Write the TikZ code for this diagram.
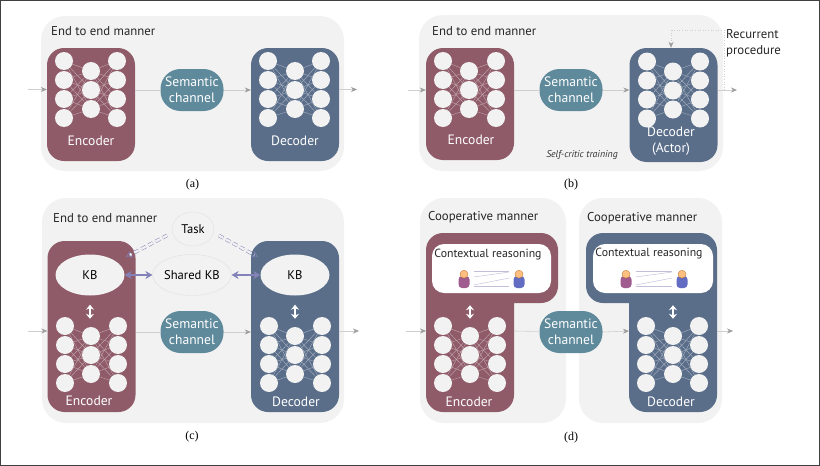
\documentclass[tikz,border=0pt]{standalone}
\usepackage{fontspec}
\setmainfont{PT Sans}
\newfontfamily\capfont{Liberation Serif}
\usetikzlibrary{arrows.meta, shapes.geometric, positioning}
\definecolor{panelcol}{HTML}{F2F2F2}
\definecolor{enccol}{HTML}{8F5B69}
\definecolor{deccol}{HTML}{5A6E8A}
\definecolor{chancol}{HTML}{5F8A9C}
\definecolor{linkcol}{HTML}{CFCFCF}
\definecolor{tipcol}{HTML}{9C9C9C}
\definecolor{kbcol}{HTML}{8482B8}
\tikzset{%
    panelsty/.style={
        rounded corners=24pt,
        fill=panelcol,
        inner sep=0pt,
    },
    boxsty/.style={
        rounded corners=17pt,
        inner sep=0pt,
        minimum width=88pt,
    },
    encsty/.style={boxsty, fill=enccol},
    decsty/.style={boxsty, fill=deccol},
    chansty/.style={
        rounded corners=20pt,
        fill=chancol,
        text=white,
        align=center,
        inner sep=0pt,
        minimum width=63pt,
        minimum height=42pt,
        font=\fontsize{13.6}{16}\selectfont,
    },
    neuronsty/.style={
        circle,
        fill=panelcol,
        inner sep=0pt,
        minimum size=18pt,
    },
    kbsty/.style={
        ellipse,
        fill=panelcol,
        inner sep=0pt,
        minimum width=69pt,
        minimum height=41pt,
        font=\fontsize{12.6}{15}\selectfont,
    },
    softsty/.style={
        kbsty,
        draw=black!12,
        line width=0.4pt,
    },
    ctxsty/.style={
        rounded corners=12pt,
        fill=white,
        inner sep=0pt,
        minimum height=49pt,
    },
    titlesty/.style={
        anchor=west,
        inner sep=0pt,
        text=black!85,
        font=\fontsize{12.8}{15}\selectfont,
    },
    whitesty/.style={
        text=white,
        align=center,
        inner sep=0pt,
        font=\fontsize{13.6}{16}\selectfont,
    },
    ctxtextsty/.style={
        inner sep=0pt,
        text=black!85,
        font=\fontsize{11.8}{14}\selectfont,
    },
    capsty/.style={
        inner sep=0pt,
        font=\capfont\fontsize{12}{14}\selectfont,
    },
    linksty/.style={draw=linkcol, line width=0.6pt},
    flowsty/.style={linksty, -{Stealth[length=6pt,width=5pt,color=tipcol]}},
    kbarrow/.style={draw=kbcol, line width=2pt, {Stealth[length=7pt,width=8pt]}-{Stealth[length=7pt,width=8pt]}},
    taskarrow/.style={draw=kbcol, double=panelcol, double distance=2.4pt, line width=0.5pt, dash pattern=on 5pt off 3pt, shorten <=6pt, -{Stealth[open,length=6pt,width=7pt]}},
    lifearrow/.style={draw=white, line width=2.4pt, {Stealth[length=5pt,width=8pt]}-{Stealth[length=5pt,width=8pt]}},
}

% neural net: prefix, three column positions, top row, edge colour
\newcommand{\neuralnet}[6]{%
  \foreach \i in {1,...,4} \node (#1l\i) [neuronsty] at (#2,{#5+(\i-1)*19}) {};
  \foreach \i in {1,...,3} \node (#1m\i) [neuronsty] at (#3,{#5+10+(\i-1)*19}) {};
  \foreach \i in {1,...,4} \node (#1r\i) [neuronsty] at (#4,{#5+(\i-1)*19}) {};
  \foreach \i in {1,...,4} \foreach \j in {1,...,3} {
    \draw [#6, line width=0.3pt] (#1l\i) -- (#1m\j);
    \draw [#6, line width=0.3pt] (#1r\i) -- (#1m\j);
  }
}

% person icon: name, position, body colour
\newcommand{\personicon}[4]{%
  \node (#1) [fill=#4, rounded corners=3.5pt, inner sep=0pt, minimum width=11pt, minimum height=12pt] at (#2,#3) {};
  \node (#1h) [circle, fill=orange!50!white, draw=orange!65!black, line width=0.2pt, inner sep=0pt, minimum size=8pt, above=-2.5pt of #1] {};
}

\begin{document}
\begin{tikzpicture}[x=1pt,y=-1pt]
\useasboundingbox (0,0) rectangle (820,466);
\draw [black!75, line width=1pt] (0.5,0.5) rectangle (819.5,465.5);

% (a) end to end
\node (pa) [panelsty, minimum width=303pt, minimum height=155pt] at (192.5,93.5) {};
\node (enca) [encsty, minimum height=113pt] at (91,104.5) {};
\node (deca) [decsty, minimum height=113pt] at (295,104.5) {};
\node (chana) [chansty] at (192,90) {Semantic\\channel};
\node (ta) [titlesty] at (51,31) {End to end manner};
\neuralnet{ea}{64}{91}{117}{61}{enccol!45!white}
\neuralnet{da}{268}{295}{321}{61}{deccol!45!white}
\node (enclaba) [whitesty] at (91,141) {Encoder};
\node (declaba) [whitesty] at (295,141) {Decoder};
\coordinate (ina) at (28,89.5);
\coordinate (outa) at (357,89.5);
\draw [flowsty] (ina) -- (ina -| enca.west);
\draw [linksty] (chana.west -| enca.east) -- (chana);
\draw [flowsty] (chana.east) -- (chana.east -| deca.west);
\draw [flowsty] (outa -| deca.east) -- (outa);
\node (capa) [capsty] at (192.5,185) {(a)};

% (b) self-critic
\node (pb) [panelsty, minimum width=304pt, minimum height=156pt] at (571,93) {};
\node (encb) [encsty, minimum height=112pt] at (470,104) {};
\node (decb) [decsty, minimum height=114pt] at (673.5,105) {};
\node (chanb) [chansty] at (571,90) {Semantic\\channel};
\node (tb) [titlesty] at (432,31) {End to end manner};
\neuralnet{eb}{443}{469}{496}{61}{enccol!45!white}
\neuralnet{db}{647}{673}{700}{61.5}{deccol!45!white}
\node (enclabb) [whitesty] at (471,140) {Encoder};
\node (declabb) [whitesty] at (671,141) {Decoder\\(Actor)};
\node (selfc) [inner sep=0pt, text=black!80, font=\itshape\fontsize{9.8}{12}\selectfont] at (582,155) {Self-critic training};
\node (recur) [anchor=west, inner sep=0pt, align=left, text=black!85, font=\fontsize{12.8}{16}\selectfont] at (726,43) {Recurrent\\procedure};
\coordinate (inb) at (408,90);
\coordinate (outb) at (737,90);
\coordinate (brb) at (724,90);
\coordinate (recb) at (671,30);
\draw [flowsty] (inb) -- (inb -| encb.west);
\draw [linksty] (chanb.west -| encb.east) -- (chanb);
\draw [flowsty] (chanb.east) -- (chanb.east -| decb.west);
\draw [flowsty] (outb -| decb.east) -- (outb);
\draw [linksty, dotted] (brb) |- (recb);
\draw [flowsty, dotted] (recb) -- (recb |- decb.north);
\node (capb) [capsty] at (571,185) {(b)};

% (c) shared knowledge base
\node (pc) [panelsty, minimum width=302pt, minimum height=225pt] at (193,310.5) {};
\node (encc) [encsty, minimum height=171pt] at (91.5,326.5) {};
\node (decc) [decsty, minimum height=171pt] at (295,326.5) {};
\node (chanc) [chansty] at (192,332) {Semantic\\channel};
\node (tc) [titlesty] at (53,218) {End to end manner};
\neuralnet{ec}{65}{91}{118}{326}{enccol!45!white}
\neuralnet{dc}{269}{295}{322}{326}{deccol!45!white}
\node (kbl) [kbsty] at (90,275) {KB};
\node (kbr) [kbsty] at (295,275) {KB};
\node (shared) [softsty] at (192,275) {Shared KB};
\node (task) [softsty, minimum width=42pt, minimum height=34pt] at (193,229) {Task};
\node (enclabc) [whitesty] at (89,401) {Encoder};
\node (declabc) [whitesty] at (296,402) {Decoder};
\coordinate (inc) at (28,331);
\coordinate (outc) at (359,331);
\coordinate (tipl) at (126,257);
\coordinate (tipr) at (258,257);
\draw [flowsty] (inc) -- (inc -| encc.west);
\draw [linksty] (chanc.west -| encc.east) -- (chanc);
\draw [flowsty] (chanc.east) -- (chanc.east -| decc.west);
\draw [flowsty] (outc -| decc.east) -- (outc);
\draw [kbarrow] (kbl) -- (shared);
\draw [kbarrow] (shared) -- (kbr);
\draw [taskarrow] (task.190) -- (tipl);
\draw [taskarrow] (task.350) -- (tipr);
\draw [lifearrow, shorten <=9pt, shorten >=8pt] (kbl.south) -- (kbl.south |- ecm1.north);
\draw [lifearrow, shorten <=9pt, shorten >=8pt] (kbr.south) -- (kbr.south |- dcm1.north);
\node (capc) [capsty] at (192,437) {(c)};

% (d) cooperative
\node (pdl) [panelsty, minimum width=146pt, minimum height=225pt] at (493,310.5) {};
\node (pdr) [panelsty, minimum width=143pt, minimum height=225pt] at (650.5,310.5) {};
\node (tdl) [titlesty] at (428,217) {Cooperative manner};
\node (tdr) [titlesty] at (587,218) {Cooperative manner};
\path [fill=enccol, rounded corners=17pt] (470,233) -- (558,233) -- (558,303) [sharp corners] -- (514,303) [rounded corners=17pt] -- (514,412) -- (426,412) -- (426,233) -- cycle;
\path [fill=deccol, rounded corners=17pt] (650,233) -- (717,233) -- (717,412) -- (629,412) [sharp corners] -- (629,303) [rounded corners=17pt] -- (586,303) -- (586,233) -- cycle;
\coordinate (encde) at (514,331);
\coordinate (decdw) at (629,331);
\coordinate (decde) at (717,331);
\coordinate (ind) at (406,331);
\coordinate (outd) at (733,331);
\node (chand) [chansty] at (571,332) {Semantic\\channel};
\neuralnet{ed}{443}{470}{497}{326}{enccol!45!white}
\neuralnet{dd}{646}{673}{699}{326}{deccol!45!white}
\node (ctxl) [ctxsty, minimum width=119pt] at (491.5,268.5) {};
\node (ctxr) [ctxsty, minimum width=120pt] at (653,268.5) {};
\node (ctxlt) [ctxtextsty] at (488,255) {Contextual reasoning};
\node (ctxrt) [ctxtextsty] at (649,254) {Contextual reasoning};
\personicon{pla}{464}{282}{violet!45!enccol!80!white}{}
\personicon{plb}{519}{282}{blue!35!deccol!80!white}{}
\personicon{pra}{626}{282}{violet!45!enccol!80!white}{}
\personicon{prb}{682}{282}{blue!35!deccol!80!white}{}
\foreach \pa/\pb in {pla/plb, pra/prb} {
  \draw [draw=kbcol!50!white, line width=0.45pt] ([xshift=4pt,yshift=11pt]\pa.east) -- ([xshift=-4pt,yshift=11pt]\pb.west);
  \draw [draw=kbcol!50!white, line width=0.45pt] ([xshift=4pt,yshift=5pt]\pa.east) -- ([xshift=-4pt,yshift=10pt]\pb.west);
  \draw [draw=kbcol!50!white, line width=0.45pt] ([xshift=4pt,yshift=-3pt]\pa.east) -- ([xshift=-4pt,yshift=4pt]\pb.west);
  \draw [draw=kbcol!50!white, line width=0.45pt] ([xshift=4pt,yshift=-4pt]\pa.east) -- ([xshift=-4pt,yshift=-4pt]\pb.west);
}
\node (enclabd) [whitesty] at (469,402) {Encoder};
\node (declabd) [whitesty] at (671,402) {Decoder};
\draw [flowsty] (ind) -- (encde -| 426,0);
\draw [linksty] (encde) -- (chand);
\draw [flowsty] (chand.east) -- (decdw);
\draw [flowsty] (decde) -- (outd);
\draw [lifearrow, shorten <=8pt, shorten >=12pt] (edm1.north) -- (edm1.north |- ctxl.south);
\draw [lifearrow, shorten <=8pt, shorten >=12pt] (ddm1.north) -- (ddm1.north |- ctxr.south);
\node (capd) [capsty] at (571,438) {(d)};

\end{tikzpicture}
\end{document}
